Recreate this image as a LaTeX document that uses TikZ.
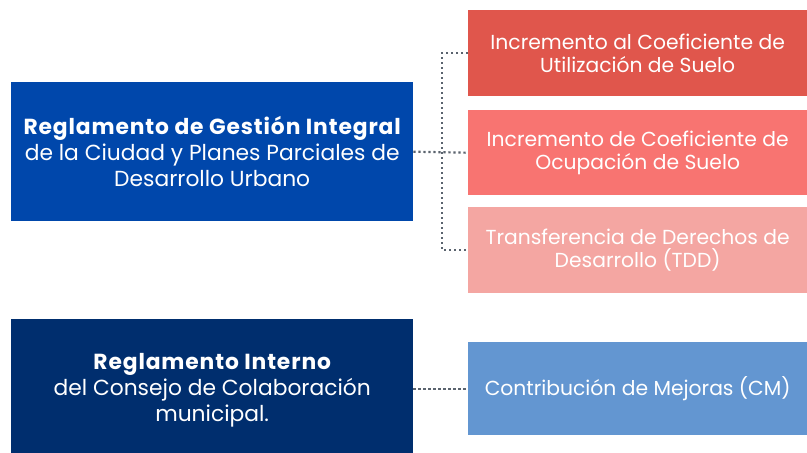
\documentclass[tikz,border=0pt]{standalone}
\usepackage{fontspec}
\setmainfont{Poppins}
\definecolor{cA}{HTML}{0047AB}
\definecolor{cB}{HTML}{002E6E}
\definecolor{c1}{HTML}{E0564C}
\definecolor{c2}{HTML}{F87471}
\definecolor{c3}{HTML}{F4A6A2}
\definecolor{c4}{HTML}{6396D1}
\definecolor{cl}{HTML}{5A636E}
\newcommand{\headtxt}[1]{{\fontsize{21.8}{26}\selectfont\bfseries\addfontfeature{LetterSpace=4}#1}}
\begin{document}
\begin{tikzpicture}[x=1pt,y=-1pt,
  lbox/.style={anchor=north west,inner sep=0pt,minimum width=402pt,text=white,align=center,font=\fontsize{21.8}{26}\selectfont},
  rbox/.style={anchor=north west,inner sep=0pt,minimum width=339pt,text=white,align=center,font=\fontsize{20.3}{23.5}\selectfont},
  conn/.style={draw=cl,line width=2.2pt,dash pattern=on 2.2pt off 2.8pt}]
\useasboundingbox (0,0) rectangle (807,453);
\fill[white] (0,0) rectangle (807,453);
\node[lbox,fill=cA,minimum height=139pt] (A) at (11,82) {\headtxt{Reglamento de Gestión Integral}\\de la Ciudad y Planes Parciales de\\Desarrollo Urbano};
\node[lbox,fill=cB,minimum height=142pt] (B) at (11,319) {\headtxt{Reglamento Interno}\\del Consejo de Colaboración\\municipal.};
\node[rbox,fill=c1,minimum height=86pt] (b1) at (468,10) {Incremento al Coeficiente de\\Utilización de Suelo};
\node[rbox,fill=c2,minimum height=85pt] (b2) at (468,110) {Incremento de Coeficiente de\\Ocupación de Suelo};
\node[rbox,fill=c3,minimum height=86pt] (b3) at (468,207) {Transferencia de Derechos de\\Desarrollo (TDD)};
\node[rbox,fill=c4,minimum height=93pt] (b4) at (468,342) {Contribución de Mejoras (CM)};
\coordinate (j) at (442,0);
\draw[conn] (b1.west) -- (b1.west -| j) -- (b3.west -| j) -- (b3.west);
\draw[conn] (A.east) -- (b2.west);
\draw[conn] (B.east |- b4.west) -- (b4.west);
\end{tikzpicture}
\end{document}
